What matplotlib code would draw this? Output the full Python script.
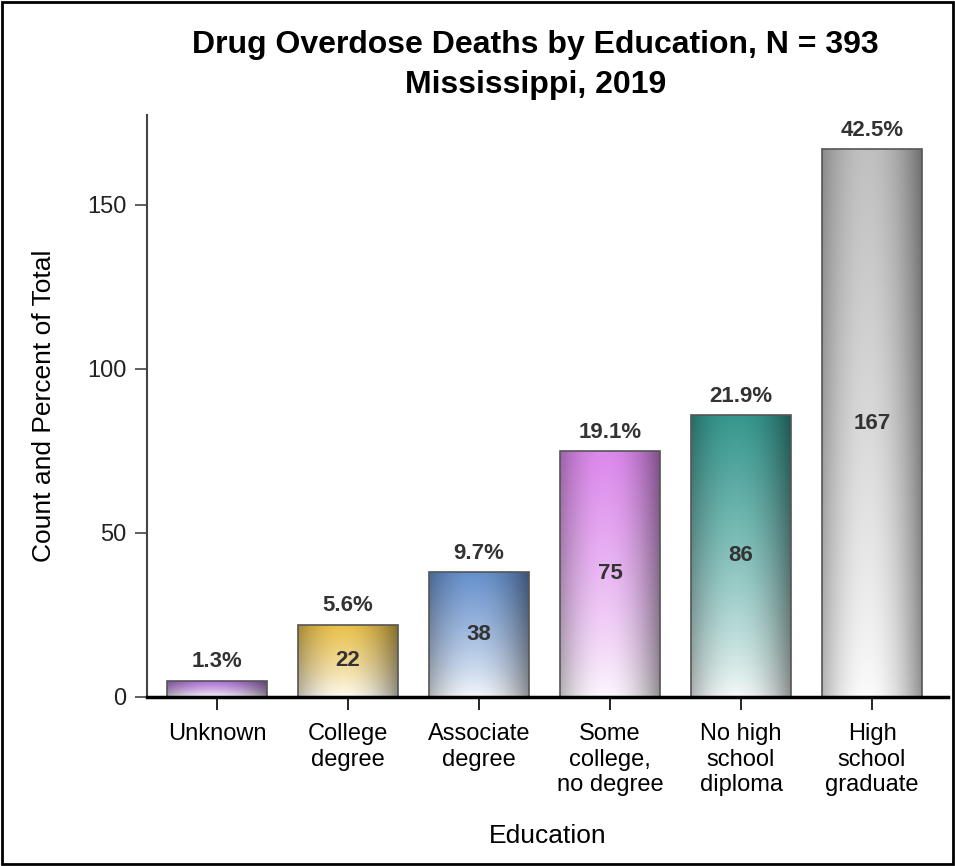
import matplotlib
matplotlib.use("Agg")
import matplotlib.pyplot as plt
import matplotlib.colors as mcolors
import numpy as np

plt.rcParams['font.family'] = ['Liberation Sans', 'DejaVu Sans']

# Overdose deaths by education level
categories = ["Unknown", "College\ndegree", "Associate\ndegree",
              "Some\ncollege,\nno degree", "No high\nschool\ndiploma",
              "High\nschool\ngraduate"]
counts = [5, 22, 38, 75, 86, 167]
bar_colors = ["#a868d0", "#e8bf48", "#6690cc", "#dc88ec", "#35988f", "#c0c0c0"]
total = sum(counts)


def gradient_image(color, nx=80, ny=160):
    # vertical fade from white (bottom) to the base colour (top),
    # darkened toward the left/right edges for a cylinder look
    rgb = np.array(mcolors.to_rgb(color))
    t = np.linspace(0, 1, ny)[:, None]
    u = np.linspace(0, 1, nx)[None, :]
    v = 0.05 + 0.95 * t ** 0.8
    base = 1 - v[..., None] * (1 - rgb)
    shade = 1 - 0.42 * (np.abs(u - 0.45) / 0.55) ** 2
    return np.clip(base * shade[..., None], 0, 1)


fig = plt.figure(figsize=(9.55, 8.66), dpi=100)
ax = fig.add_axes([0.1539, 0.1952, 0.8388, 0.672])

x = np.arange(len(categories))
bars = ax.bar(x, counts, width=0.76, facecolor="none",
              edgecolor="#555555", linewidth=1.2, zorder=3)

for bar, col, n in zip(bars, bar_colors, counts):
    x0, w, h = bar.get_x(), bar.get_width(), bar.get_height()
    im = ax.imshow(gradient_image(col), origin="lower", aspect="auto",
                   extent=(x0, x0 + w, 0, h), zorder=2, interpolation="bilinear")
    im.set_clip_path(bar)
    ax.annotate(f"{100 * n / total:.1f}%", (x0 + w / 2, h),
                xytext=(0, 6), textcoords="offset points",
                ha="center", va="bottom", fontsize=16, fontweight="bold",
                color="#333333", zorder=4)
    if n >= 15:
        ax.text(x0 + w / 2, h / 2, str(n), ha="center", va="center",
                fontsize=16, fontweight="bold", color="#333333", zorder=4)

ax.set_xlim(-0.534, 5.58)
ax.set_ylim(0, 177.4)
ax.set_xticks(x)
ax.set_xticklabels(categories, fontsize=17)
ax.set_yticks([0, 50, 100, 150])
ax.tick_params(axis="y", labelsize=17, length=9, width=1.2, color="#444444",
               labelcolor="#222222", pad=6)
ax.tick_params(axis="x", length=9, width=1.2, pad=10)

for side in ("top", "right"):
    ax.spines[side].set_visible(False)
ax.spines["left"].set_color("#444444")
ax.spines["left"].set_linewidth(1.5)
ax.spines["bottom"].set_color("black")
ax.spines["bottom"].set_linewidth(2.5)
ax.spines["bottom"].set_zorder(5)

ax.set_xlabel("Education", fontsize=19, labelpad=20)
ax.set_ylabel("Count and Percent of Total", fontsize=19, labelpad=22)

fig.text(0.561, 0.9388, f"Drug Overdose Deaths by Education, N = {total}",
         ha="center", va="baseline", fontsize=23, fontweight="bold")
fig.text(0.561, 0.8926, "Mississippi, 2019",
         ha="center", va="baseline", fontsize=23, fontweight="bold")

# outer frame
fig.patches.append(plt.Rectangle((0.002, 0.002), 0.996, 0.996,
                                 transform=fig.transFigure, fill=False,
                                 edgecolor="black", linewidth=2))

fig.savefig("out.png", dpi=100)
